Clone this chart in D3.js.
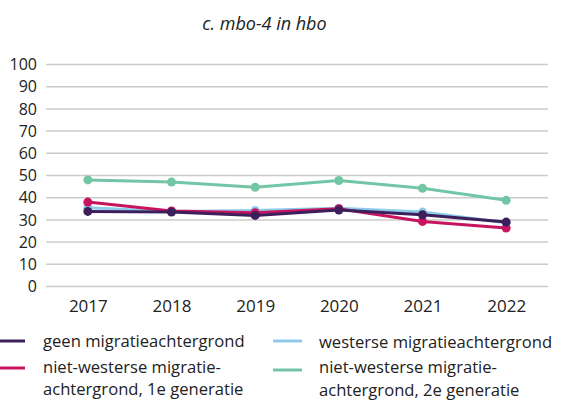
<!DOCTYPE html>
<html><head><meta charset="utf-8">
<script src="https://cdn.jsdelivr.net/npm/d3@7"></script>
<style>body{margin:0;background:#fff}svg{display:block}text{font-family:"Open Sans",Lato,sans-serif}</style>
</head><body>
<svg id="c" width="584" height="401"></svg>
<script>
const years = ["2017","2018","2019","2020","2021","2022"];
const yTicks = [0,10,20,30,40,50,60,70,80,90,100];
const seriesNames = ["geen migratieachtergrond","westerse migratieachtergrond","niet-westerse migratie-\nachtergrond, 1e generatie","niet-westerse migratie-\nachtergrond, 2e generatie"];
const geen = [33.6,33.3,31.8,34.2,32.1,28.8];
const westers = [35.3,33.6,34,35,33.3,28.5];
const nw1 = [37.8,33.8,33,34.8,29.1,26.1];
const nw2 = [47.8,46.8,44.5,47.5,44,38.6];
const colors = ["#3d1f5c","#8ecbea","#c8135f","#72c6a5"];
const title = "c. mbo-4 in hbo";

const svg = d3.select("#c");
const x = d3.scalePoint().domain(years).range([46,548]).padding(0.5);
const y = d3.scaleLinear().domain([0,100]).range([286,64]);

svg.append("text").attr("x",264.5).attr("y",30).attr("text-anchor","middle")
  .style("font-style","italic").style("font-weight","normal").style("font-size","18px")
  .style("font-family","'Liberation Sans Narrow','Open Sans',sans-serif").attr("fill","#222").text(title);

const gy = svg.append("g").attr("transform","translate(46,0)")
  .call(d3.axisLeft(y).tickValues(yTicks).tickSize(-502).tickPadding(9));
gy.select(".domain").remove();
gy.selectAll(".tick line").attr("stroke","#cccccc").attr("stroke-width",1.5);
gy.selectAll(".tick text").attr("fill","#222").style("font-size","16px").attr("dy","0.35em");

const gx = svg.append("g").attr("transform","translate(0,286)")
  .call(d3.axisBottom(x).tickSize(0).tickPadding(0));
gx.select(".domain").remove();
gx.selectAll(".tick text").attr("fill","#222").style("font-size","17px").attr("y",25.5).attr("dy",0);

const data = [geen,westers,nw1,nw2];
const order = [3,1,2,0];
const line = d3.line().x((d,i)=>x(years[i])).y(d=>y(d));
order.forEach(k=>{
  svg.append("path").datum(data[k]).attr("d",line).attr("fill","none")
    .attr("stroke",colors[k]).attr("stroke-width",3);
  svg.selectAll(null).data(data[k]).enter().append("circle")
    .attr("cx",(d,i)=>x(years[i])).attr("cy",d=>y(d)).attr("r",4.5).attr("fill",colors[k]);
});

const legPos = [[0,341,347],[273,341,348],[0,368,372.7],[273,370,373]];
seriesNames.forEach((n,k)=>{
  const [lx,ly,tb] = legPos[k];
  svg.append("line").attr("x1",lx).attr("x2",lx+(k%2?29:25)).attr("y1",ly).attr("y2",ly)
    .attr("stroke",colors[k]).attr("stroke-width",3);
  const tx = lx + (k%2?46:43);
  n.split("\n").forEach((s,j)=>svg.append("text").attr("x",tx).attr("y",tb+j*22.7)
    .attr("fill","#222").style("font-size","16.6px").text(s));
});
</script>
</body></html>
